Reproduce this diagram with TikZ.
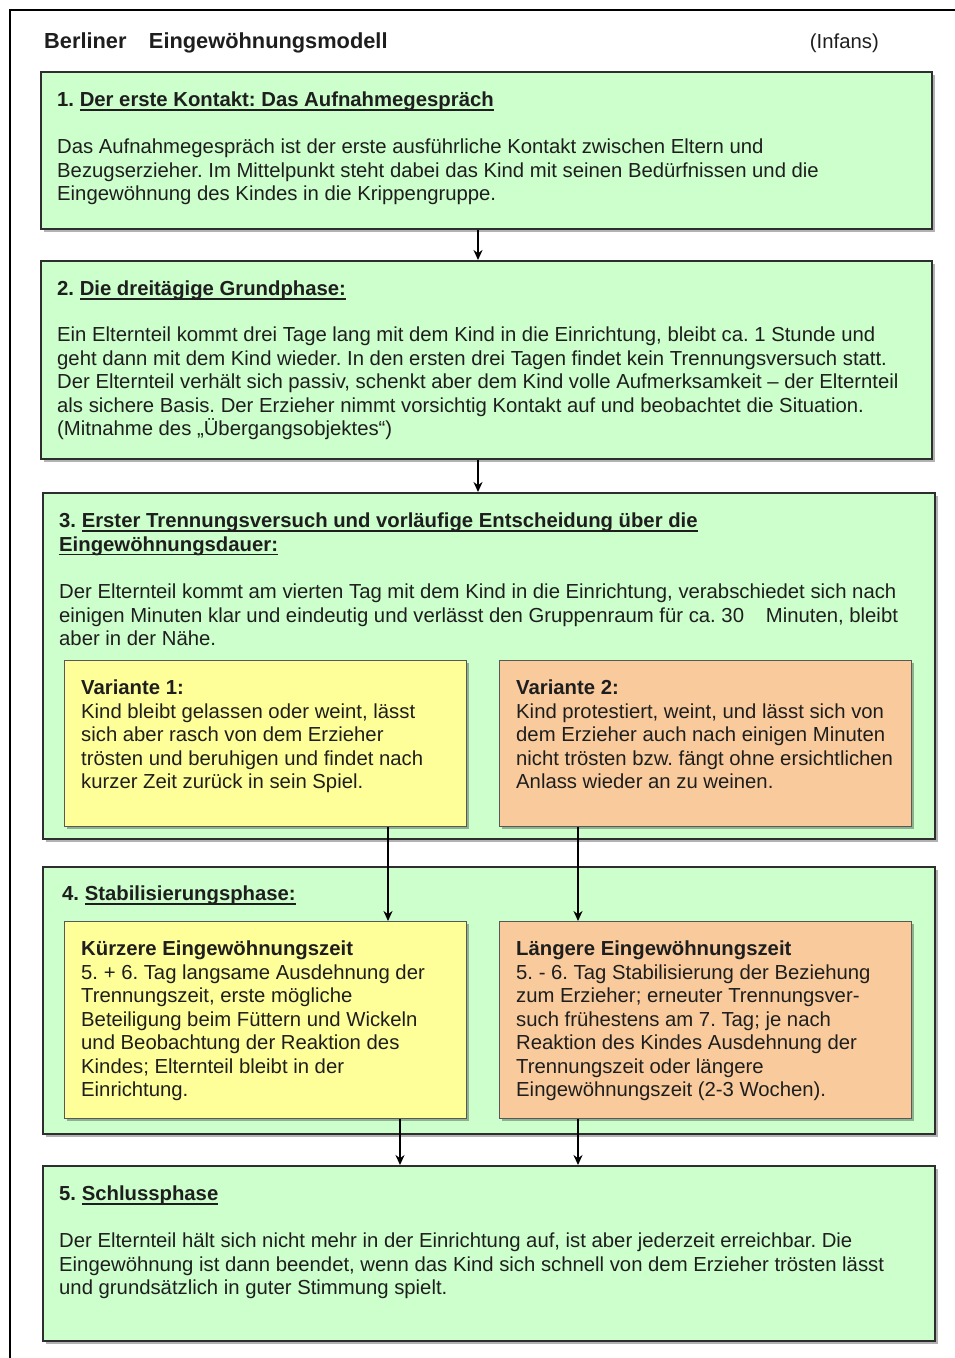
\documentclass[tikz,border=0pt]{standalone}
\usepackage{fontspec}
\setmainfont{Liberation Sans}
\usetikzlibrary{arrows.meta,shadows}
\definecolor{gfill}{HTML}{CCFFCC}
\definecolor{yfill}{HTML}{FFFF99}
\definecolor{ofill}{HTML}{F9CB9C}
\definecolor{bord}{HTML}{2E2E2E}
\definecolor{ink}{HTML}{1E1E1E}
\newcommand{\myul}[1]{\setbox0\hbox{#1}\rlap{\rule[-4pt]{\wd0}{1.4pt}}\box0}
\frenchspacing
\begin{document}
\begin{tikzpicture}[x=1pt,y=-1pt,
  shd/.style={drop shadow={shadow xshift=2.5pt,shadow yshift=-2.5pt,fill=black,opacity=0.3}},
  outerbox/.style={draw=bord,line width=2pt,fill=gfill,anchor=north west,inner sep=0pt,shd},
  varbox/.style={draw=bord!80,line width=1.3pt,anchor=north west,inner sep=0pt,shd},
  txt/.style={anchor=north west,inner sep=0pt,align=left,text=ink,font=\fontsize{20.3}{23.5}\selectfont},
  arr/.style={line width=2.2pt,-{Stealth[length=10pt,width=9pt]}}]
\useasboundingbox (0,0) rectangle (955,1358);
\draw[line width=2pt] (955,10) -- (10,10) -- (10,1358);

% title
\node[txt,font=\fontsize{21.8}{23.5}\selectfont] (title) at (44,32) {\strut\textbf{Berliner\hspace{0.75em} Eingewöhnungsmodell}};
\node[txt,anchor=north east] (src) at (879,32) {\strut(Infans)};

% boxes
\node[outerbox,minimum width=891pt,minimum height=157pt] (b1) at (40,71) {};
\node[outerbox,minimum width=891pt,minimum height=198pt] (b2) at (40,260) {};
\node[outerbox,minimum width=892pt,minimum height=346pt] (b3) at (42,492) {};
\node[varbox,fill=yfill,minimum width=402pt,minimum height=166pt] (v1) at (64,660) {};
\node[varbox,fill=ofill,minimum width=412pt,minimum height=166pt] (v2) at (499,660) {};
\node[outerbox,minimum width=892pt,minimum height=267pt] (b4) at (42,866) {};
\node[varbox,fill=yfill,minimum width=402pt,minimum height=197pt] (k) at (64,921) {};
\node[varbox,fill=ofill,minimum width=412pt,minimum height=197pt] (l) at (499,921) {};
\node[outerbox,minimum width=892pt,minimum height=175pt] (b5) at (42,1165) {};

% texts
\node[txt] (h1) at (57,90) {\strut\textbf{1. \myul{Der erste Kontakt: Das Aufnahmegespräch}}};
\node[txt] (t1) at (57,137) {\strut Das Aufnahmegespräch ist der erste ausführliche Kontakt zwischen Eltern und\\
Bezugserzieher. Im Mittelpunkt steht dabei das Kind mit seinen Bedürfnissen und die\\
Eingewöhnung des Kindes in die Krippengruppe.};

\node[txt] (h2) at (57,279) {\strut\textbf{2. \myul{Die dreitägige Grundphase:}}};
\node[txt] (t2) at (57,325) {\strut Ein Elternteil kommt drei Tage lang mit dem Kind in die Einrichtung, bleibt ca. 1 Stunde und\\
geht dann mit dem Kind wieder. In den ersten drei Tagen findet kein Trennungsversuch statt.\\
Der Elternteil verhält sich passiv, schenkt aber dem Kind volle Aufmerksamkeit – der Elternteil\\
als sichere Basis. Der Erzieher nimmt vorsichtig Kontakt auf und beobachtet die Situation.\\
(Mitnahme des „Übergangsobjektes“)};

\node[txt] (h3) at (59,511) {\strut\textbf{3. \myul{Erster Trennungsversuch und vorläufige Entscheidung über die}}\\
\textbf{\myul{Eingewöhnungsdauer:}}};
\node[txt] (t3) at (59,582) {\strut Der Elternteil kommt am vierten Tag mit dem Kind in die Einrichtung, verabschiedet sich nach\\
einigen Minuten klar und eindeutig und verlässt den Gruppenraum für ca. 30\hspace{0.8em} Minuten, bleibt\\
aber in der Nähe.};

\node[txt] (tv1) at (81,678) {\strut\textbf{Variante 1:}\\
Kind bleibt gelassen oder weint, lässt\\
sich aber rasch von dem Erzieher\\
trösten und beruhigen und findet nach\\
kurzer Zeit zurück in sein Spiel.};
\node[txt] (tv2) at (516,678) {\strut\textbf{Variante 2:}\\
Kind protestiert, weint, und lässt sich von\\
dem Erzieher auch nach einigen Minuten\\
nicht trösten bzw. fängt ohne ersichtlichen\\
Anlass wieder an zu weinen.};

\node[txt] (h4) at (62,884) {\strut\textbf{4. \myul{Stabilisierungsphase:}}};
\node[txt] (tk) at (81,939) {\strut\textbf{Kürzere Eingewöhnungszeit}\\
5. + 6. Tag langsame Ausdehnung der\\
Trennungszeit, erste mögliche\\
Beteiligung beim Füttern und Wickeln\\
und Beobachtung der Reaktion des\\
Kindes; Elternteil bleibt in der\\
Einrichtung.};
\node[txt] (tl) at (516,939) {\strut\textbf{Längere Eingewöhnungszeit}\\
5. - 6. Tag Stabilisierung der Beziehung\\
zum Erzieher; erneuter Trennungsver-\\
such frühestens am 7. Tag; je nach\\
Reaktion des Kindes Ausdehnung der\\
Trennungszeit oder längere\\
Eingewöhnungszeit (2-3 Wochen).};

\node[txt] (h5) at (59,1184) {\strut\textbf{5. \myul{Schlussphase}}};
\node[txt] (t5) at (59,1231) {\strut Der Elternteil hält sich nicht mehr in der Einrichtung auf, ist aber jederzeit erreichbar. Die\\
Eingewöhnung ist dann beendet, wenn das Kind sich schnell von dem Erzieher trösten lässt\\
und grundsätzlich in guter Stimmung spielt.};

% connectors
\draw[arr] (b1.south -| 478,0) -- (b2.north -| 478,0);
\draw[arr] (b2.south -| 478,0) -- (b3.north -| 478,0);
\draw[arr] (v1.south -| 388,0) -- (k.north -| 388,0);
\draw[arr] (v2.south -| 578,0) -- (l.north -| 578,0);
\draw[arr] (k.south -| 400,0) -- (b5.north -| 400,0);
\draw[arr] (l.south -| 578,0) -- (b5.north -| 578,0);
\end{tikzpicture}
\end{document}
